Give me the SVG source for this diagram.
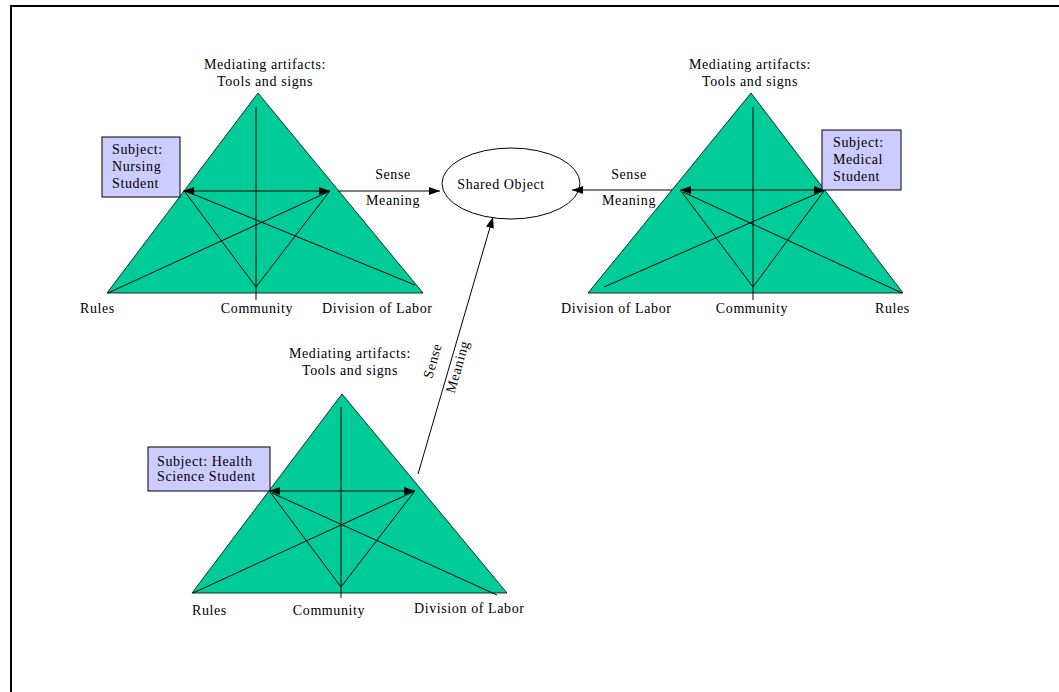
<svg xmlns="http://www.w3.org/2000/svg" width="1059" height="692" viewBox="0 0 1059 692">
<defs>
<marker id="ah" markerUnits="userSpaceOnUse" markerWidth="11" markerHeight="8" refX="11" refY="4" orient="auto-start-reverse">
<path d="M0,0 L11,4 L0,8 z" fill="#000"/>
</marker>
<style>
.tri{fill:#00CC99;stroke:#000;stroke-width:0.8}
.ln{stroke:#000;stroke-width:1;fill:none}
.box{fill:#CCCCFF;stroke:#000;stroke-width:1}
text{font-family:"Liberation Serif","Times New Roman",serif;font-size:14px;letter-spacing:0.6px;fill:#000}
.c{text-anchor:middle}
</style>
</defs>
<rect x="0" y="0" width="1059" height="692" fill="#fff"/>
<path d="M11,700 L11,6 L1070,6" fill="none" stroke="#000" stroke-width="2"/>

<g id="triangle-nursing">
<polygon class="tri" points="258,93 107,293 423,293"/>
<line class="ln" x1="256" y1="107" x2="256" y2="300"/>
<line class="ln" x1="108" y1="293" x2="330" y2="191"/>
<line class="ln" x1="256" y1="287" x2="185" y2="192"/>
<line class="ln" x1="256" y1="287" x2="329" y2="192"/>
<line class="ln" x1="415" y1="285" x2="188" y2="192"/>
<line class="ln" x1="183" y1="191" x2="330" y2="191" marker-start="url(#ah)" marker-end="url(#ah)"/>
<text class="c" x="265" y="69">Mediating artifacts:</text>
<text class="c" x="265" y="86">Tools and signs</text>
<text x="80" y="313">Rules</text>
<text class="c" x="257" y="313">Community</text>
<text x="322" y="313">Division of Labor</text>
<rect class="box" x="102" y="137" width="78" height="60"/>
<text x="112" y="154">Subject:</text>
<text x="112" y="171">Nursing</text>
<text x="112" y="188">Student</text>
</g>

<g id="triangle-medical">
<polygon class="tri" points="751,93 588,293 903,293"/>
<line class="ln" x1="753" y1="107" x2="753" y2="300"/>
<line class="ln" x1="604" y1="287" x2="825" y2="190"/>
<line class="ln" x1="753" y1="287" x2="681" y2="191"/>
<line class="ln" x1="753" y1="287" x2="824" y2="191"/>
<line class="ln" x1="902" y1="293" x2="683" y2="192"/>
<line class="ln" x1="680" y1="190" x2="825" y2="190" marker-start="url(#ah)" marker-end="url(#ah)"/>
<text class="c" x="750" y="69">Mediating artifacts:</text>
<text class="c" x="750" y="86">Tools and signs</text>
<text x="561" y="313">Division of Labor</text>
<text class="c" x="752" y="313">Community</text>
<text x="875" y="313">Rules</text>
<rect class="box" x="822" y="130" width="79" height="60"/>
<text x="833" y="147">Subject:</text>
<text x="833" y="164">Medical</text>
<text x="833" y="181">Student</text>
</g>

<g id="triangle-health">
<polygon class="tri" points="342,394 192,593 507,593"/>
<line class="ln" x1="341" y1="407" x2="341" y2="598"/>
<line class="ln" x1="193" y1="593" x2="415" y2="491"/>
<line class="ln" x1="341" y1="587" x2="270" y2="492"/>
<line class="ln" x1="341" y1="587" x2="414" y2="492"/>
<line class="ln" x1="497" y1="595" x2="272" y2="493"/>
<line class="ln" x1="269" y1="491" x2="415" y2="491" marker-start="url(#ah)" marker-end="url(#ah)"/>
<text class="c" x="350" y="358">Mediating artifacts:</text>
<text class="c" x="350" y="375">Tools and signs</text>
<text x="192" y="615">Rules</text>
<text class="c" x="329" y="615">Community</text>
<text x="414" y="613">Division of Labor</text>
<rect class="box" x="148" y="447" width="122" height="44"/>
<text x="157" y="466">Subject: Health</text>
<text x="157" y="481">Science Student</text>
</g>

<g id="shared-object">
<ellipse cx="511" cy="183.5" rx="69" ry="35.5" fill="#fff" stroke="#000" stroke-width="1"/>
<text class="c" x="501" y="189">Shared Object</text>
</g>

<g id="connectors">
<line class="ln" x1="338" y1="191" x2="440" y2="191" marker-end="url(#ah)"/>
<line class="ln" x1="672" y1="190" x2="572" y2="190" marker-end="url(#ah)"/>
<line class="ln" x1="418" y1="474" x2="493" y2="217" marker-end="url(#ah)"/>
<text class="c" x="393" y="179">Sense</text>
<text class="c" x="393" y="205">Meaning</text>
<text class="c" x="629" y="179">Sense</text>
<text class="c" x="629" y="205">Meaning</text>
<text class="c" transform="translate(437,362) rotate(-74)">Sense</text>
<text class="c" transform="translate(458,367) rotate(-74)" dy="4">Meaning</text>
</g>
</svg>
